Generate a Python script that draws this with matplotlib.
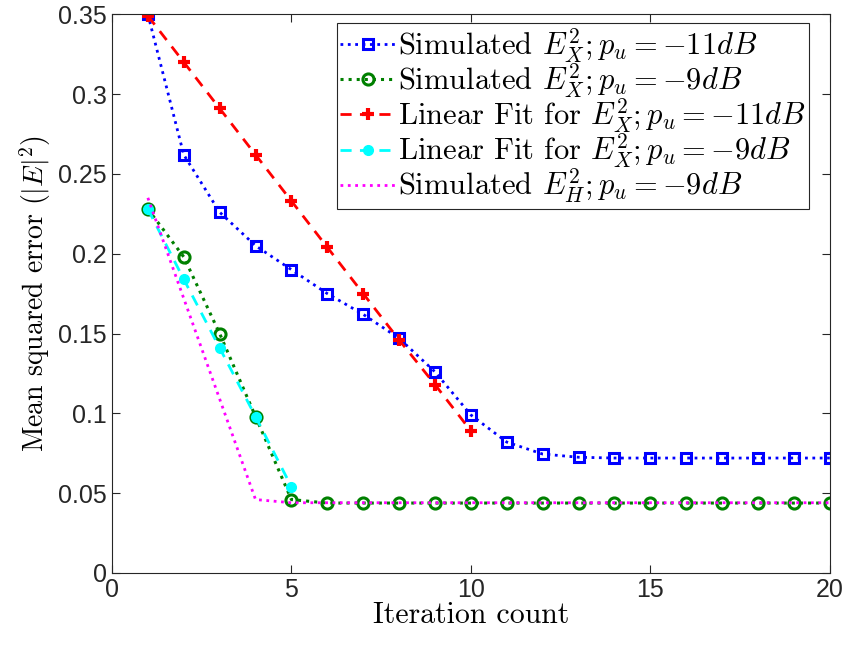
import matplotlib
matplotlib.use("Agg")
import matplotlib.pyplot as plt
from matplotlib.ticker import FuncFormatter

# data
iters = list(range(1, 21))
sim_x_11 = [0.350, 0.262, 0.226, 0.205, 0.190, 0.175, 0.162, 0.147, 0.126, 0.099,
            0.082, 0.0745, 0.0725, 0.072, 0.072, 0.072, 0.072, 0.072, 0.072, 0.072]
sim_x_9 = [0.228, 0.198, 0.150, 0.098, 0.046, 0.0438, 0.0438, 0.0438, 0.0438, 0.0438,
           0.0438, 0.0438, 0.0438, 0.0438, 0.0438, 0.0438, 0.0438, 0.0438, 0.0438, 0.0438]
fit_iters_11 = list(range(1, 11))
fit_x_11 = [0.349, 0.320, 0.291, 0.262, 0.233, 0.204, 0.175, 0.146, 0.118, 0.089]
fit_iters_9 = list(range(1, 6))
fit_x_9 = [0.228, 0.184, 0.141, 0.098, 0.054]
sim_h_9 = [0.235, 0.172, 0.109, 0.046, 0.044, 0.044, 0.044, 0.044, 0.044, 0.044,
           0.044, 0.044, 0.044, 0.044, 0.044, 0.044, 0.044, 0.044, 0.044, 0.044]

x_ticks = [0, 5, 10, 15, 20]
y_ticks = [0, 0.05, 0.1, 0.15, 0.2, 0.25, 0.3, 0.35]

plt.rcParams["mathtext.fontset"] = "cm"
plt.rcParams["axes.unicode_minus"] = False

fig = plt.figure(figsize=(8.45, 6.47), dpi=100)
ax = fig.add_axes([0.1325, 0.1144, 0.8495, 0.8636])

ax.plot(iters, sim_x_11, color="blue", linestyle=":", linewidth=2,
        marker="s", markersize=7, markerfacecolor="none", markeredgewidth=2.2,
        label=r"Simulated $E_X^2; p_u = -11dB$")
ax.plot(iters, sim_x_9, color="green", linestyle=":", linewidth=2.2,
        marker="o", markersize=8, markerfacecolor="none", markeredgewidth=2.2,
        label=r"Simulated $E_X^2; p_u = -9dB$")
ax.plot(fit_iters_11, fit_x_11, color="red", linestyle=(0, (4, 3)), linewidth=2,
        marker="+", markersize=8, markeredgewidth=3,
        label=r"Linear Fit for $E_X^2; p_u = -11dB$")
ax.plot(fit_iters_9, fit_x_9, color="cyan", linestyle=(0, (4, 3)), linewidth=2,
        marker="o", markersize=7,
        label=r"Linear Fit for $E_X^2; p_u = -9dB$")
ax.plot(iters, sim_h_9, color="magenta", linestyle=":", linewidth=2,
        label=r"Simulated $E_H^2; p_u = -9dB$")

ax.set_xlim(0, 20)
ax.set_ylim(0, 0.35)
ax.set_xticks(x_ticks)
ax.set_yticks(y_ticks)
ax.yaxis.set_major_formatter(FuncFormatter(lambda v, p: f"{v:g}"))
ax.tick_params(direction="in", top=True, right=True, length=6, width=0.8,
               labelsize=18, colors="#262626")
for lab in ax.get_xticklabels() + ax.get_yticklabels():
    lab.set_fontfamily("Liberation Sans")
for s in ax.spines.values():
    s.set_color("#262626")
    s.set_linewidth(0.8)

ax.set_xlabel("Iteration count", fontsize=21.5, fontfamily="cmr10", labelpad=0)
ax.set_ylabel(r"Mean squared error $(|E|^2)$", fontsize=20, fontfamily="cmr10", labelpad=4)

leg = ax.legend(loc="upper right", bbox_to_anchor=(0.98, 0.995),
                prop={"family": "cmr10", "size": 22}, fancybox=False,
                edgecolor="#262626", framealpha=1, handlelength=1.8,
                handletextpad=0.1, labelspacing=-0.12, borderpad=0.1,
                borderaxespad=0.2)
leg.get_frame().set_linewidth(0.8)

fig.savefig("out.png", dpi=100)
